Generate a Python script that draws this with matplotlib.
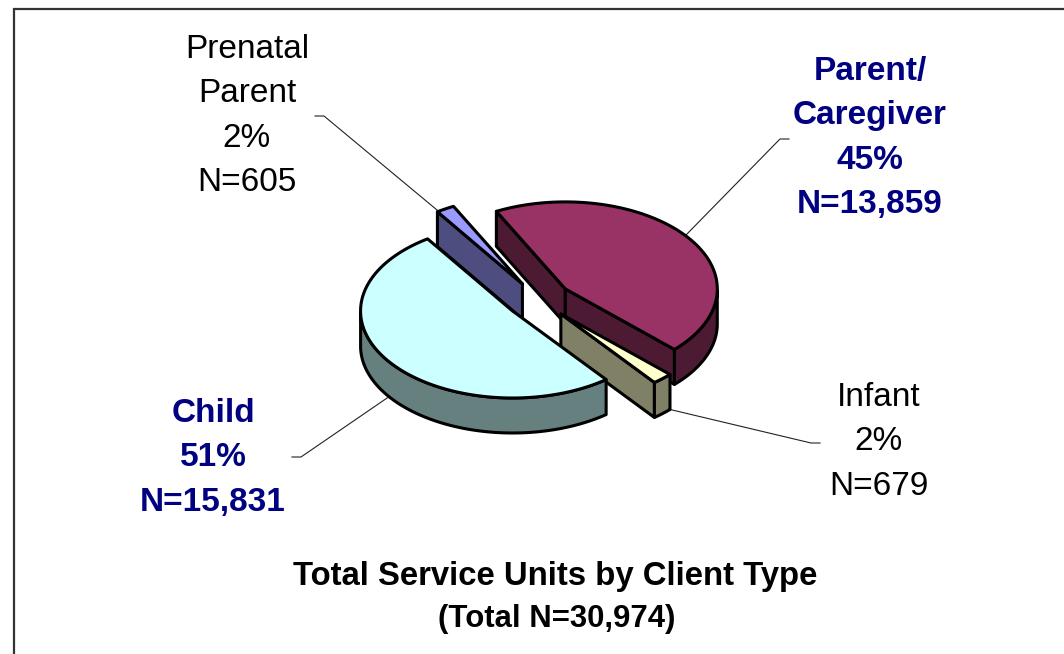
import numpy as np
import matplotlib
matplotlib.use("Agg")
import matplotlib.pyplot as plt
from matplotlib.patches import Polygon

# data
names = ["Prenatal\nParent", "Parent/\nCaregiver", "Infant", "Child"]
values = [605, 13859, 679, 15831]
percents = ["2%", "45%", "2%", "51%"]
counts = ["N=605", "N=13,859", "N=679", "N=15,831"]
title = "Total Service Units by Client Type"
subtitle = "(Total N=30,974)"

# style / layout (in reference pixels)
W, H = 1064, 654
top_colors = ["#9999FF", "#993366", "#FFFFCC", "#CCFFFF"]
wall_colors = ["#4D4D80", "#4D1A33", "#808066", "#668080"]
label_colors = ["black", "#000080", "black", "#000080"]
label_weights = ["normal", "bold", "normal", "bold"]
label_pos = [(247, 116), (870, 138), (879, 442), (213, 458)]
leaders = [
    [(315, 116), (324, 116), (437, 210)],
    [(789, 139), (780, 139), (686, 235)],
    [(820, 443), (811, 443), (668, 409)],
    [(292, 457), (301, 457), (390, 396)],
]
CX, CY, A, B, DEPTH, EXPLODE = 539.0, 300, 152, 87, 35, 0.215
START = 124.0
EDGE = 2.2

plt.rcParams["font.family"] = ["Liberation Sans", "DejaVu Sans"]
fig = plt.figure(figsize=(W / 100, H / 100), dpi=100, facecolor="white")
ax = fig.add_axes([0, 0, 1, 1])
ax.set_xlim(0, W)
ax.set_ylim(H, 0)
ax.axis("off")

# frame, running off the right and bottom of the picture
ax.plot([13.5, 13.5, W + 5], [H + 5, 8.5, 8.5], color="#333333", lw=1.6, solid_joinstyle="miter")

for pts in leaders:
    xs, ys = zip(*pts)
    ax.plot(xs, ys, color="#222222", lw=0.8, zorder=1)


def rim(cx, cy, t):
    t = np.radians(t)
    return np.column_stack([cx + A * np.cos(t), cy - B * np.sin(t)])


shares = np.array(values) / sum(values) * 360
ends = START - np.cumsum(shares)
starts = ends + shares
drop = np.array([0, DEPTH])


def draw_slice(i, z):
    t0, t1 = starts[i], ends[i]
    mid = (t0 + t1) / 2
    m = np.radians(mid)
    cx = CX + EXPLODE * A * np.cos(m)
    cy = CY - EXPLODE * B * np.sin(m)
    ts = np.linspace(t0, t1, 120)
    arc = rim(cx, cy, ts)
    apex = np.array([cx, cy])
    mid_pt = rim(cx, cy, mid)[0]
    for p in (arc[0], arc[-1]):
        d = p - apex
        nx, ny = -d[1], d[0]
        side = (mid_pt - apex) @ np.array([nx, ny])
        face_down = ny if side < 0 else -ny
        if face_down > 0:
            ax.add_patch(Polygon([apex, p, p + drop, apex + drop], closed=True,
                                 fc=wall_colors[i], ec="black", lw=EDGE,
                                 joinstyle="round", zorder=z))
    front = np.sin(np.radians(ts)) <= 0
    if front.any():
        fa = arc[front]
        ax.add_patch(Polygon(np.vstack([fa, (fa + drop)[::-1]]), closed=True,
                             fc=wall_colors[i], ec="black", lw=EDGE,
                             joinstyle="round", zorder=z))
    ax.add_patch(Polygon(np.vstack([apex, arc]), closed=True, fc=top_colors[i],
                         ec="black", lw=EDGE, joinstyle="round", zorder=z + 0.5))


for order, i in enumerate([1, 2, 0, 3]):
    draw_slice(i, 2 + order)

for i in range(len(values)):
    ax.text(*label_pos[i], f"{names[i]}\n{percents[i]}\n{counts[i]}", ha="center", va="center",
            ma="center", fontsize=24, color=label_colors[i], fontweight=label_weights[i],
            linespacing=1.56, zorder=10)

ax.text(555, 576, title, ha="center", va="center", fontsize=23.7, fontweight="bold", color="black")
ax.text(556.5, 619, subtitle, ha="center", va="center", fontsize=22.4, fontweight="bold", color="black")

fig.savefig("out.png", dpi=100, facecolor="white")
